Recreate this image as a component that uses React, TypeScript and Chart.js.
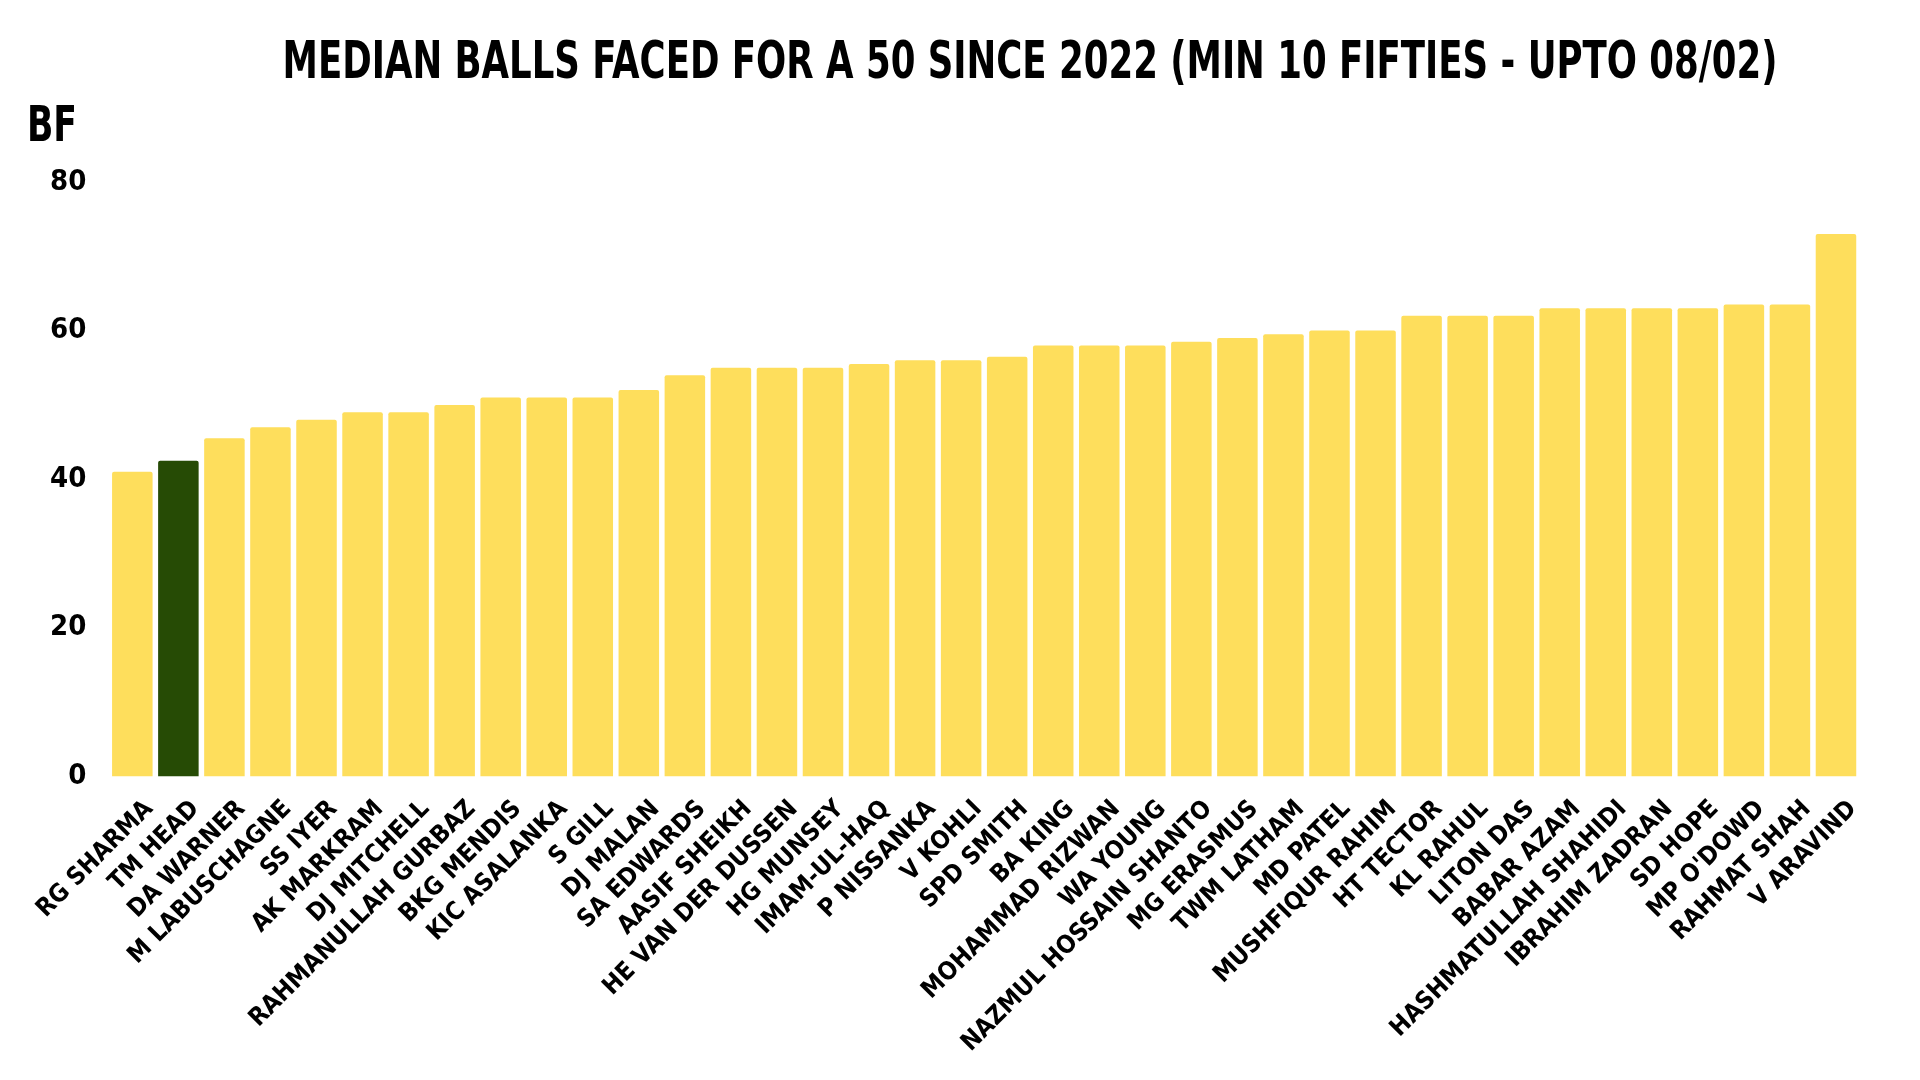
import React, { useEffect, useRef } from "react";
import { Chart, registerables } from "chart.js";

Chart.register(...registerables);

const players = [
  "RG SHARMA", "TM HEAD", "DA WARNER", "M LABUSCHAGNE", "SS IYER", "AK MARKRAM",
  "DJ MITCHELL", "RAHMANULLAH GURBAZ", "BKG MENDIS", "KIC ASALANKA", "S GILL",
  "DJ MALAN", "SA EDWARDS", "AASIF SHEIKH", "HE VAN DER DUSSEN", "HG MUNSEY",
  "IMAM-UL-HAQ", "P NISSANKA", "V KOHLI", "SPD SMITH", "BA KING", "MOHAMMAD RIZWAN",
  "WA YOUNG", "NAZMUL HOSSAIN SHANTO", "MG ERASMUS", "TWM LATHAM", "MD PATEL",
  "MUSHFIQUR RAHIM", "HT TECTOR", "KL RAHUL", "LITON DAS", "BABAR AZAM",
  "HASHMATULLAH SHAHIDI", "IBRAHIM ZADRAN", "SD HOPE", "MP O'DOWD", "RAHMAT SHAH",
  "V ARAVIND",
];

const medianBallsFaced = [
  41, 42.5, 45.5, 47, 48, 49,
  49, 50, 51, 51, 51,
  52, 54, 55, 55, 55,
  55.5, 56, 56, 56.5, 58, 58,
  58, 58.5, 59, 59.5, 60,
  60, 62, 62, 62, 63,
  63, 63, 63, 63.5, 63.5,
  73,
];

const highlightPlayer = "TM HEAD";
const yMin = 0;
const yMax = 80;
const yStep = 20;

const titleText = "MEDIAN BALLS FACED FOR A 50 SINCE 2022 (MIN 10 FIFTIES - UPTO 08/02)";
const yAxisLabel = "BF";

const YELLOW = "#FEDE5C";
const GREEN = "#264B05";
const FONT =
  "'DejaVu Sans Condensed', 'Liberation Sans Narrow', 'Roboto Condensed', 'DejaVu Sans', sans-serif";

export default function App() {
  const ref = useRef<HTMLCanvasElement | null>(null);

  useEffect(() => {
    document.body.style.margin = "0";
    const canvas = ref.current;
    if (!canvas) return;

    const drawFitted = (
      ctx: CanvasRenderingContext2D,
      text: string,
      x: number,
      y: number,
      size: number,
      width: number,
      align: "left" | "center"
    ) => {
      ctx.save();
      ctx.font = `bold ${size}px ${FONT}`;
      ctx.fillStyle = "#000";
      ctx.textBaseline = "middle";
      ctx.textAlign = "left";
      const w = ctx.measureText(text).width;
      const sx = width / w;
      const left = align === "center" ? x - width / 2 : x;
      ctx.translate(left, y);
      ctx.scale(sx, 1);
      ctx.fillText(text, 0, 0);
      ctx.restore();
    };

    const overlay = {
      id: "overlay",
      afterDraw(chart: any) {
        const ctx = chart.ctx as CanvasRenderingContext2D;
        drawFitted(ctx, titleText, 1030, 64, 52, 1495, "center");
        drawFitted(ctx, yAxisLabel, 27, 128, 50, 50, "left");
      },
    };

    const chart = new Chart(canvas, {
      type: "bar",
      data: {
        labels: players,
        datasets: [
          {
            data: medianBallsFaced,
            backgroundColor: players.map((p) => (p === highlightPlayer ? GREEN : YELLOW)),
            borderRadius: 2,
            borderSkipped: "bottom",
            barPercentage: 0.88,
            categoryPercentage: 1,
          },
        ],
      },
      options: {
        animation: false,
        responsive: false,
        devicePixelRatio: 1,
        layout: { padding: { top: 182, left: 27, right: 61, bottom: 4 } },
        plugins: {
          legend: { display: false },
          title: { display: false },
          tooltip: { enabled: false },
        },
        scales: {
          x: {
            grid: { display: false, drawTicks: false },
            border: { display: false },
            ticks: {
              autoSkip: false,
              maxRotation: 45,
              minRotation: 45,
              color: "#000",
              padding: 18,
              labelOffset: 17,
              font: { family: FONT, size: 25, weight: "bold" },
            },
          },
          y: {
            min: yMin,
            max: yMax,
            grid: { display: false, drawTicks: false },
            border: { display: false },
            ticks: {
              stepSize: yStep,
              color: "#000",
              padding: 23,
              font: { family: FONT, size: 29, weight: "bold" },
            },
          },
        },
      },
      plugins: [overlay],
    });

    return () => chart.destroy();
  }, []);

  return (
    <div style={{ width: 1920, height: 1080, position: "relative", background: "#fff" }}>
      <canvas ref={ref} width={1920} height={1080} style={{ width: 1920, height: 1080, display: "block" }} />
    </div>
  );
}
